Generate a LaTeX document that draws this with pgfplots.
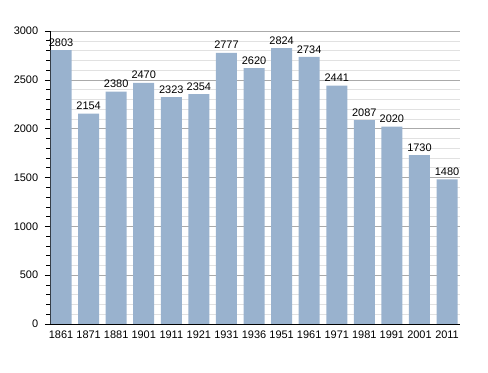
\documentclass[border=0pt]{standalone}
\usepackage{pgfplots}
\pgfplotsset{compat=1.18}
\usepackage{fontspec}
\setmainfont{Liberation Sans}
\definecolor{barblue}{RGB}{153,178,206}
\definecolor{majgrid}{RGB}{170,170,170}
\definecolor{mingrid}{RGB}{225,225,225}
\begin{document}
\fontsize{11}{13}\selectfont
\begin{tikzpicture}
\begin{axis}[
  scale only axis,
  width=410bp, height=293bp,
  ymin=0, ymax=3000,
  xmin=-0.4, xmax=14.47,
  ytick={0,500,...,3000},
  minor y tick num=4,
  ymajorgrids, yminorgrids,
  major grid style={majgrid, line width=0.6pt},
  minor grid style={mingrid, line width=0.5pt},
  axis x line*=bottom,
  axis y line*=left,
  axis line style={black, line width=0.8pt, -},
  y tick style={black, line width=0.6pt},
  tick align=outside,
  major tick length=5bp,
  minor tick length=3.5bp,
  xtick=data,
  xtick style={draw=none},
  xticklabels={1861,1871,1881,1901,1911,1921,1931,1936,1951,1961,1971,1981,1991,2001,2011},
  yticklabel style={xshift=-3bp},
  xticklabel style={yshift=2.5bp},
  tick label style={font=\fontsize{11}{13}\selectfont},
  /pgf/number format/1000 sep={},
  /pgf/number format/assume math mode=true,
  ybar, bar width=21bp,
  nodes near coords,
  nodes near coords style={font=\fontsize{11}{13}\selectfont},
  enlarge x limits=false,
]
\addplot[fill=barblue, draw=none] coordinates {
(0,2803) (1,2154) (2,2380) (3,2470) (4,2323) (5,2354) (6,2777) (7,2620)
(8,2824) (9,2734) (10,2441) (11,2087) (12,2020) (13,1730) (14,1480)};
\end{axis}
\useasboundingbox (-50bp,-49bp) rectangle (438bp,324bp);
\end{tikzpicture}
\end{document}
